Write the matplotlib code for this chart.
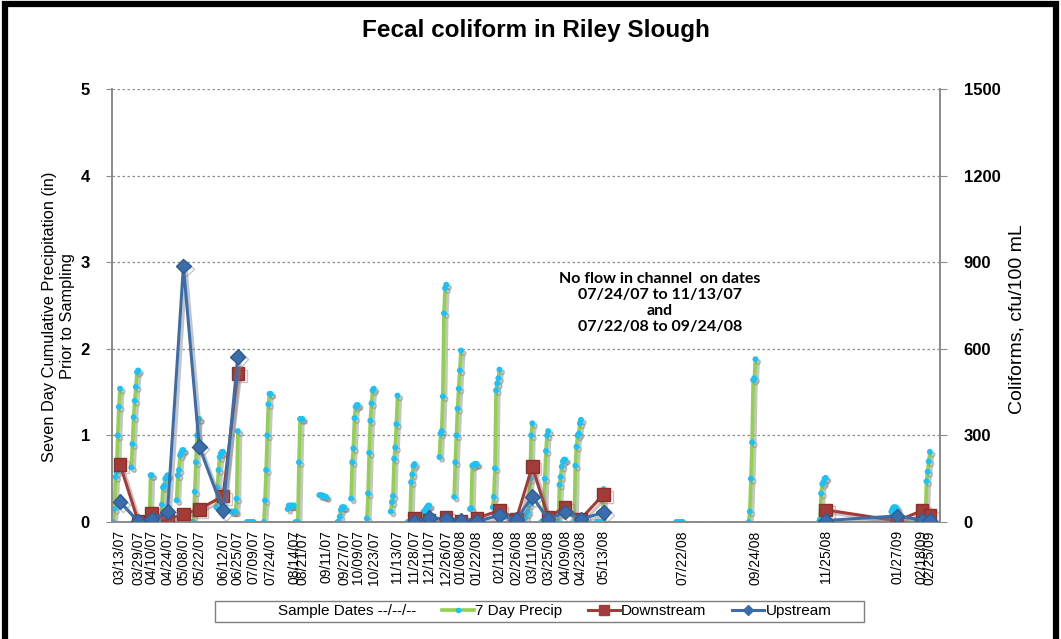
import numpy as np
import pandas as pd
import matplotlib
matplotlib.use('Agg')
import matplotlib.pyplot as plt
import matplotlib.patheffects as pe
from matplotlib.lines import Line2D
from matplotlib.patches import Rectangle

plt.rcParams['font.family'] = ['Liberation Sans', 'DejaVu Sans']

# sample dates (also used as the x tick labels)
sample_dates = ['03/13/07', '03/29/07', '04/10/07', '04/24/07', '05/08/07', '05/22/07',
                '06/12/07', '06/25/07', '07/09/07', '07/24/07', '08/14/07', '08/21/07',
                '09/11/07', '09/27/07', '10/09/07', '10/23/07', '11/13/07', '11/28/07',
                '12/11/07', '12/26/07', '01/08/08', '01/22/08', '02/11/08', '02/26/08',
                '03/11/08', '03/25/08', '04/09/08', '04/23/08', '05/13/08', '07/22/08',
                '09/24/08', '11/25/08', '01/27/09', '02/18/09', '02/25/09']

# coliforms, cfu/100 mL (nan = no flow in channel)
nan = np.nan
downstream = [200, 3, 32, 7, 28, 44, 90, 515,
              nan, nan, nan, nan, nan, nan, nan, nan, nan,
              13, 5, 17, 3, 13, 40, 11, 193, 16, 52, 11, 96,
              nan, nan, 42, 4, 39, 24]
upstream = [70, 2, 10, 36, 887, 261, 40, 573,
            nan, nan, nan, nan, nan, nan, nan, nan, nan,
            1, 15, 10, 5, 2, 23, 8, 88, 9, 35, 10, 33,
            nan, nan, 5, 21, 7, 5]

# 7 day precip (in), daily values for the 6 days before and the sample day
precip_ramps = [
    [0.0, 0.15, 0.52, 0.58, 1.0, 1.33, 1.54],
    [0.63, 0.9, 1.21, 1.4, 1.56, 1.73, 1.75],
    [0.0, 0.0, 0.0, 0.0, 0.0, 0.54, 0.54],
    [0.0, 0.2, 0.4, 0.42, 0.5, 0.52, 0.54],
    [0.25, 0.54, 0.6, 0.77, 0.8, 0.83, 0.83],
    [0.0, 0.0, 0.35, 0.69, 1.0, 1.19, 1.19],
    [0.17, 0.4, 0.6, 0.75, 0.79, 0.81, 0.81],
    [0.12, 0.12, 0.12, 0.12, 0.12, 0.27, 1.05],
    [0.0, 0.0, 0.0, 0.0, 0.0, 0.0, 0.0],
    [0.0, 0.25, 0.6, 1.0, 1.36, 1.48, 1.48],
    [0.15, 0.19, 0.19, 0.19, 0.19, 0.19, 0.19],
    [0.0, 0.0, 0.0, 0.69, 1.19, 1.19, 1.19],
    [0.31, 0.31, 0.31, 0.3, 0.3, 0.29, 0.29],
    [0.0, 0.0, 0.06, 0.14, 0.17, 0.17, 0.17],
    [0.27, 0.69, 0.85, 1.2, 1.33, 1.35, 1.35],
    [0.04, 0.33, 0.8, 1.17, 1.37, 1.52, 1.54],
    [0.12, 0.23, 0.3, 0.73, 0.86, 1.13, 1.46],
    [0.0, 0.0, 0.0, 0.46, 0.55, 0.65, 0.67],
    [0.0, 0.12, 0.13, 0.15, 0.17, 0.19, 0.19],
    [0.75, 1.02, 1.05, 1.45, 2.41, 2.7, 2.74],
    [0.29, 0.69, 1.0, 1.31, 1.54, 1.75, 1.98],
    [0.15, 0.16, 0.65, 0.66, 0.67, 0.67, 0.67],
    [0.17, 0.29, 0.62, 1.52, 1.6, 1.66, 1.76],
    [0.0, 0.0, 0.0, 0.0, 0.0, 0.0, 0.0],
    [0.05, 0.1, 0.12, 0.2, 0.5, 1.0, 1.14],
    [0.0, 0.0, 0.0, 0.5, 0.82, 1.0, 1.05],
    [0.0, 0.43, 0.52, 0.64, 0.7, 0.72, 0.72],
    [0.0, 0.65, 0.87, 1.0, 1.02, 1.14, 1.18],
    [0.0, 0.0, 0.0, 0.0, 0.0, 0.0, 0.38],
    [0.0, 0.0, 0.0, 0.0, 0.0, 0.0, 0.0],
    [0.0, 0.12, 0.5, 0.92, 1.64, 1.66, 1.88],
    [0.0, 0.03, 0.33, 0.44, 0.46, 0.5, 0.51],
    [0.0, 0.12, 0.15, 0.17, 0.17, 0.17, 0.15],
    [0.0, 0.0, 0.0, 0.0, 0.0, 0.0, 0.0],
    [0.0, 0.0, 0.0, 0.47, 0.58, 0.7, 0.81],
]

note = 'No flow in channel  on dates\n07/24/07 to 11/13/07\nand\n07/22/08 to 09/24/08'

dates = pd.to_datetime(sample_dates, format='%m/%d/%y')

fig = plt.figure(figsize=(10.61, 6.39), dpi=100)
ax = fig.add_axes([0.1056, 0.1831, 0.7804, 0.6776])
ax2 = ax.twinx()

shadow = [pe.SimpleLineShadow(offset=(2, -2), shadow_color='#808080', alpha=0.45), pe.Normal()]

# 7 day precip ramps
for d, ramp in zip(dates, precip_ramps):
    days = [d - pd.Timedelta(days=6 - i) for i in range(len(ramp))]
    ax.plot(days, ramp, color='#92D050', lw=2.6, marker='o', ms=3.2,
            mfc='#19C3F5', mec='#19C3F5', zorder=3, path_effects=shadow)

ax2.plot(dates, downstream, color='#A33B38', lw=2.2, marker='s', ms=9,
         mfc='#A33B38', mec='#8E2F2C', zorder=4, path_effects=shadow)
ax2.plot(dates, upstream, color='#3B6DAA', lw=2.2, marker='D', ms=7.5,
         mfc='#3B6DAA', mec='#2F5C94', zorder=5, path_effects=shadow)

ax.set_ylim(0, 5)
ax2.set_ylim(0, 1500)
ax.set_xlim(pd.Timestamp('2007-03-06'), pd.Timestamp('2009-03-06'))
ax.set_yticks([0, 1, 2, 3, 4, 5])
ax2.set_yticks([0, 300, 600, 900, 1200, 1500])
ax.grid(axis='y', ls=(0, (2, 2)), color='#8C8C8C', lw=0.9)
ax.set_axisbelow(True)

ax.set_xticks(dates)
ax.set_xticklabels(sample_dates, rotation=90, fontsize=10)
ax.tick_params(axis='x', length=0, pad=6)
ax.tick_params(axis='y', length=4, color='#8C8C8C', labelsize=12, pad=12)
ax2.tick_params(axis='y', length=5, color='#8C8C8C', labelsize=12, pad=12)
for lab in ax.get_yticklabels() + ax2.get_yticklabels():
    lab.set_fontweight('bold')

for a in (ax, ax2):
    a.spines['top'].set_visible(False)
    for s in ('left', 'right', 'bottom'):
        a.spines[s].set_color('#8C8C8C')
        a.spines[s].set_linewidth(1.3)

ax.set_ylabel('Seven Day Cumulative Precipitation (in)\nPrior to Sampling', fontsize=11.8,
              linespacing=1.2)
ax.yaxis.set_label_coords(-0.045, 0.475)
ax2.set_ylabel('Coliforms, cfu/100 mL', fontsize=14)
ax2.yaxis.set_label_coords(1.083, 0.468)
fig.text(0.505, 0.953, 'Fecal coliform in Riley Slough', ha='center', va='center',
         fontsize=17.5, fontweight='bold')

ax.text(0.662, 0.505, note, transform=ax.transAxes, ha='center', va='center',
        fontsize=11.5, fontweight='bold', family=['Lato', 'DejaVu Sans'], linespacing=1.18)

# legend (frame drawn separately, Excel style wide padding)
h_dates = Line2D([], [], color='none')
h_precip = Line2D([], [], color='#92D050', lw=2.6, marker='o', ms=3, mfc='#19C3F5', mec='#19C3F5')
h_down = Line2D([], [], color='#A33B38', lw=2.2, marker='s', ms=7, mfc='#A33B38', mec='#A33B38')
h_up = Line2D([], [], color='#3B6DAA', lw=2.2, marker='D', ms=5, mfc='#3B6DAA', mec='#3B6DAA')
leg = fig.legend([h_dates, h_precip, h_down, h_up],
                 ['Sample Dates --/--/--', '7 Day Precip', 'Downstream', 'Upstream'],
                 loc='center', bbox_to_anchor=(0.507, 0.0435), ncol=4, fontsize=11,
                 frameon=False, handlelength=2.1, handletextpad=0.1,
                 columnspacing=1.65, borderpad=0.2)
fig.patches.append(Rectangle((0.2026, 0.0266), 0.6117, 0.0329, transform=fig.transFigure,
                             fill=False, edgecolor='#7F7F7F', lw=1.0))

# outer chart border
fig.patches.append(Rectangle((0.005, -0.05), 0.99, 1.043, transform=fig.transFigure,
                             fill=False, edgecolor='black', lw=4.5))

fig.savefig('out.png', dpi=100)
